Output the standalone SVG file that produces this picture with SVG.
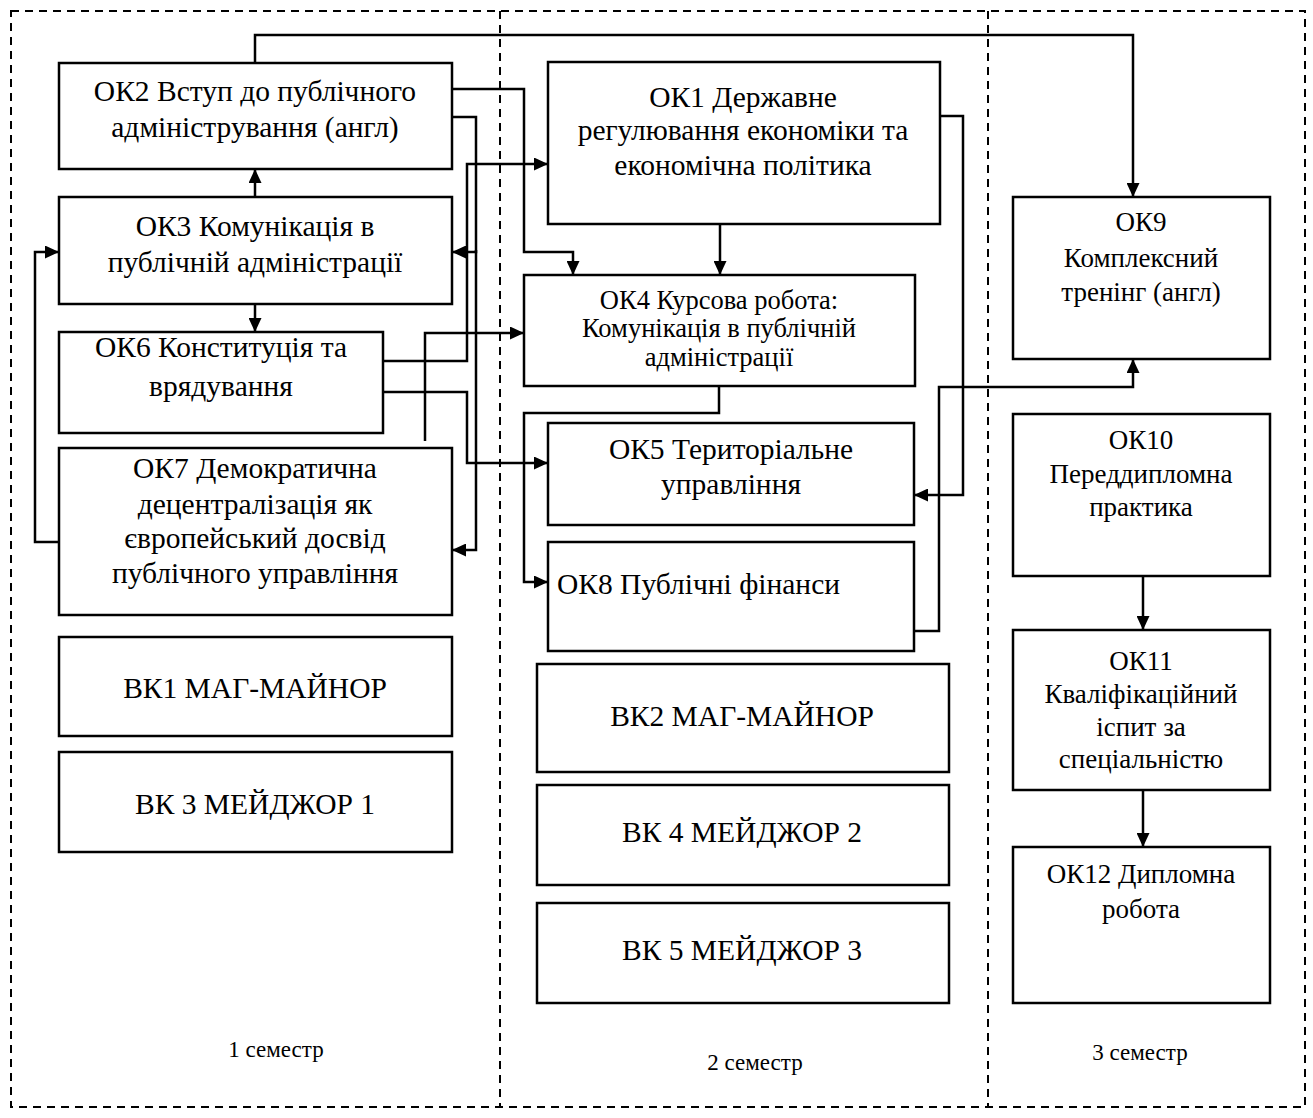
<svg xmlns="http://www.w3.org/2000/svg" width="1313" height="1118" viewBox="0 0 1313 1118">
<style>
.frame{fill:none;stroke:#000;stroke-width:2;stroke-dasharray:8,6}
.box{fill:#fff;stroke:#000;stroke-width:2.5}
.c{fill:none;stroke:#000;stroke-width:2.5}
text{font-family:"Liberation Serif","Times New Roman",serif;font-size:29.5px;fill:#000;text-anchor:middle}
.s{font-size:26.5px}
.r{font-size:27px}
.sem{font-size:23px}
</style>
<defs>
<marker id="a" markerUnits="userSpaceOnUse" markerWidth="15" markerHeight="13" refX="14" refY="6.5" orient="auto"><path d="M0,0 L14,6.5 L0,13 z" fill="#000"/></marker>
</defs>
<g id="frame">
<rect class="frame" x="11" y="11" width="1294" height="1096"/>
<line class="frame" x1="500" y1="11" x2="500" y2="1107"/>
<line class="frame" x1="988" y1="11" x2="988" y2="1107"/>
</g>
<g id="OK2"><rect class="box" x="59" y="63" width="393" height="106"/><text x="255" y="101">ОК2 Вступ до публічного</text><text x="255" y="137">адміністрування (англ)</text></g>
<g id="OK3"><rect class="box" x="59" y="197" width="393" height="107"/><text x="255" y="236">ОК3 Комунікація в</text><text x="255" y="272">публічній адміністрації</text></g>
<g id="OK6"><rect class="box" x="59" y="332" width="324" height="101"/><text x="221" y="357">ОК6 Конституція та</text><text x="221" y="396">врядування</text></g>
<g id="OK7"><rect class="box" x="59" y="448" width="393" height="167"/><text x="255" y="478">ОК7 Демократична</text><text x="255" y="514">децентралізація як</text><text x="255" y="548">європейський досвід</text><text x="255" y="583">публічного управління</text></g>
<g id="VK1"><rect class="box" x="59" y="637" width="393" height="99"/><text x="255" y="698">ВК1 МАГ-МАЙНОР</text></g>
<g id="VK3"><rect class="box" x="59" y="752" width="393" height="100"/><text x="255" y="814">ВК 3 МЕЙДЖОР 1</text></g>
<g id="OK1"><rect class="box" x="548" y="62" width="392" height="162"/><text x="743" y="107">ОК1 Державне</text><text x="743" y="140">регулювання економіки та</text><text x="743" y="175">економічна політика</text></g>
<g id="OK4"><rect class="box" x="524" y="275" width="391" height="111"/><text class="s" x="719" y="309">ОК4 Курсова робота:</text><text class="s" x="719" y="337">Комунікація в публічній</text><text class="s" x="719" y="366">адміністрації</text></g>
<g id="OK5"><rect class="box" x="548" y="423" width="366" height="102"/><text x="731" y="459">ОК5 Територіальне</text><text x="731" y="494">управління</text></g>
<g id="OK8"><rect class="box" x="548" y="542" width="366" height="109"/><text x="557" y="594" style="text-anchor:start">ОК8 Публічні фінанси</text></g>
<g id="VK2"><rect class="box" x="537" y="664" width="412" height="108"/><text x="742" y="726">ВК2 МАГ-МАЙНОР</text></g>
<g id="VK4"><rect class="box" x="537" y="785" width="412" height="100"/><text x="742" y="842">ВК 4 МЕЙДЖОР 2</text></g>
<g id="VK5"><rect class="box" x="537" y="903" width="412" height="100"/><text x="742" y="960">ВК 5 МЕЙДЖОР 3</text></g>
<g id="OK9"><rect class="box" x="1013" y="197" width="257" height="162"/><text class="r" x="1141" y="231">ОК9</text><text class="r" x="1141" y="267">Комплексний</text><text class="r" x="1141" y="301">тренінг (англ)</text></g>
<g id="OK10"><rect class="box" x="1013" y="414" width="257" height="162"/><text class="r" x="1141" y="449">ОК10</text><text class="r" x="1141" y="483">Переддипломна</text><text class="r" x="1141" y="516">практика</text></g>
<g id="OK11"><rect class="box" x="1013" y="630" width="257" height="160"/><text class="r" x="1141" y="670">ОК11</text><text class="r" x="1141" y="703">Кваліфікаційний</text><text class="r" x="1141" y="736">іспит за</text><text class="r" x="1141" y="768">спеціальністю</text></g>
<g id="OK12"><rect class="box" x="1013" y="847" width="257" height="156"/><text class="r" x="1141" y="883">ОК12 Дипломна</text><text class="r" x="1141" y="918">робота</text></g>
<g id="labels"><text class="sem" x="276" y="1057">1 семестр</text><text class="sem" x="755" y="1070">2 семестр</text><text class="sem" x="1140" y="1060">3 семестр</text></g>
<g id="connectors">
<path class="c" marker-end="url(#a)" d="M255,63 V35 H1133 V197"/>
<path class="c" marker-end="url(#a)" d="M452,89 H524 V252 H573 V275"/>
<path class="c" marker-end="url(#a)" d="M452,117 H476 V252 H452"/>
<path class="c" marker-end="url(#a)" d="M476,250 V550 H452"/>
<path class="c" marker-end="url(#a)" d="M383,361 H467 V164 H548"/>
<path class="c" marker-end="url(#a)" d="M383,392 H467 V463 H548"/>
<path class="c" marker-end="url(#a)" d="M425,441 V333 H524"/>
<path class="c" marker-end="url(#a)" d="M719,386 V413 H524 V582 H548"/>
<path class="c" marker-end="url(#a)" d="M940,116 H963 V495 H914"/>
<path class="c" marker-end="url(#a)" d="M914,631 H939 V387 H1133 V359"/>
<path class="c" marker-end="url(#a)" d="M255,197 V169"/>
<path class="c" marker-end="url(#a)" d="M255,304 V332"/>
<path class="c" marker-end="url(#a)" d="M59,542 H35 V252 H59"/>
<path class="c" marker-end="url(#a)" d="M720,224 V275"/>
<path class="c" marker-end="url(#a)" d="M1143,576 V630"/>
<path class="c" marker-end="url(#a)" d="M1143,790 V847"/>
</g>
</svg>
